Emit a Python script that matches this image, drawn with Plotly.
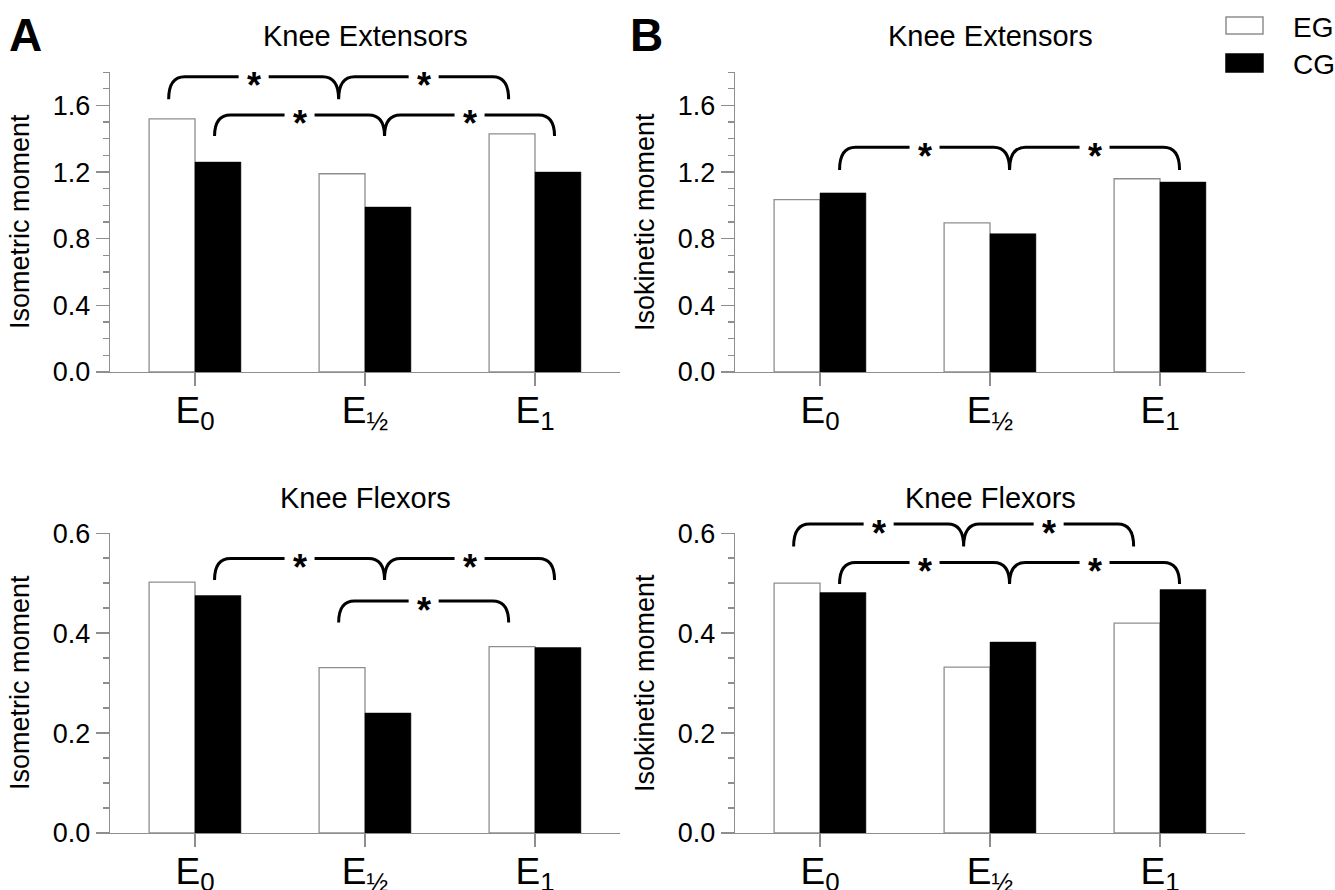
import plotly.graph_objects as go

W, H = 1335, 890

# ---------------- data ----------------
tick_labels = ["E<sub>0</sub>", "E<sub>½</sub>", "E<sub>1</sub>"]
series_names = ["EG", "CG"]

iso_ext_EG = [1.52, 1.19, 1.43]
iso_ext_CG = [1.26, 0.99, 1.20]
isok_ext_EG = [1.035, 0.895, 1.16]
isok_ext_CG = [1.075, 0.83, 1.14]
iso_flex_EG = [0.502, 0.331, 0.373]
iso_flex_CG = [0.475, 0.240, 0.371]
isok_flex_EG = [0.500, 0.332, 0.420]
isok_flex_CG = [0.481, 0.382, 0.487]

panel_titles = ["Knee Extensors", "Knee Extensors", "Knee Flexors", "Knee Flexors"]
y_titles = ["Isometric moment", "Isokinetic moment", "Isometric moment", "Isokinetic moment"]
y_ranges = [[0, 1.8], [0, 1.8], [0, 0.6], [0, 0.6]]
y_major = [[0, 0.4, 0.8, 1.2, 1.6], [0, 0.4, 0.8, 1.2, 1.6], [0, 0.2, 0.4, 0.6], [0, 0.2, 0.4, 0.6]]
y_minor = [0.1, 0.1, 0.05, 0.05]

# significance brackets: (panel index, series, categories joined, level of line, level of hook ends)
brackets = [
    (0, "EG", [0, 1, 2], 1.772, 1.636),
    (0, "CG", [0, 1, 2], 1.542, 1.416),
    (1, "CG", [0, 1, 2], 1.348, 1.212),
    (2, "CG", [0, 1, 2], 0.549, 0.506),
    (2, "EG", [1, 2], 0.464, 0.421),
    (3, "EG", [0, 1, 2], 0.618, 0.573),
    (3, "CG", [0, 1, 2], 0.541, 0.498),
]

# ---------------- layout geometry (pixels) ----------------
panels_px = [  # x0, x1, ytop, ybottom
    (110, 620, 72, 372),
    (735, 1245, 72, 372),
    (110, 620, 533, 833),
    (735, 1245, 533, 833),
]
XR = [-0.5, 2.5]
FONT = "Liberation Sans, Arial, Helvetica, sans-serif"
AX = "#8e8e8e"

panel_values = [
    (iso_ext_EG, iso_ext_CG),
    (isok_ext_EG, isok_ext_CG),
    (iso_flex_EG, iso_flex_CG),
    (isok_flex_EG, isok_flex_CG),
]

fig = go.Figure()
layout = dict(
    width=W, height=H, margin=dict(l=0, r=0, t=0, b=0),
    paper_bgcolor="white", plot_bgcolor="white",
    barmode="group", bargap=0.46, bargroupgap=0,
    showlegend=False, font=dict(family=FONT, color="black"),
    template="none",
)

for i, (x0, x1, yt, yb) in enumerate(panels_px):
    n = "" if i == 0 else str(i + 1)
    xd = [x0 / W, x1 / W]
    yd = [1 - yb / H, 1 - yt / H]
    layout["xaxis" + n] = dict(
        domain=xd, range=XR, anchor="y" + n, showline=True, linecolor=AX, linewidth=1.3,
        ticks="outside", ticklen=13, tickcolor=AX, tickwidth=1.3,
        tickvals=[0, 1, 2], ticktext=tick_labels, showgrid=False, zeroline=False,
        ticklabelstandoff=-8,
        tickfont=dict(size=37, family=FONT, color="black"), automargin=False, fixedrange=True,
    )
    yr = y_ranges[i]
    layout["yaxis" + n] = dict(
        domain=yd, range=[yr[0], yr[1] * 1.0005], anchor="x" + n, showline=True, linecolor=AX,
        linewidth=1.3, ticks="outside", ticklen=13, tickcolor=AX, tickwidth=1.3,
        tickvals=y_major[i], tickformat=".1f", showgrid=False, zeroline=False,
        tickfont=dict(size=27, family=FONT, color="black"), automargin=False, fixedrange=True,
        minor=dict(dtick=y_minor[i], tick0=0, ticks="outside", ticklen=6, tickcolor=AX,
                   tickwidth=1.3, showgrid=False),
    )
    eg, cg = panel_values[i]
    fig.add_trace(go.Bar(x=[0, 1, 2], y=eg, name="EG", xaxis="x" + n, yaxis="y" + n,
                         marker=dict(color="white", line=dict(color=AX, width=1.3))))
    fig.add_trace(go.Bar(x=[0, 1, 2], y=cg, name="CG", xaxis="x" + n, yaxis="y" + n,
                         marker=dict(color="black", line=dict(color="black", width=0.5))))

fig.update_layout(**layout)

annotations = []
shapes = []


def x2px(i, v):
    x0, x1, _, _ = panels_px[i]
    return x0 + (v - XR[0]) / (XR[1] - XR[0]) * (x1 - x0)


def y2px(i, v):
    _, _, yt, yb = panels_px[i]
    lo, hi = y_ranges[i]
    return yb - (v - lo) / (hi - lo) * (yb - yt)


def P(px, py):
    return f"{px / W:.5f},{1 - py / H:.5f}"


# panel titles and y titles
for i, (x0, x1, yt, yb) in enumerate(panels_px):
    ty = 36 if i < 2 else 498
    annotations.append(dict(text=panel_titles[i], x=(x0 + x1) / 2 / W, y=1 - ty / H,
                            xref="paper", yref="paper", showarrow=False,
                            xanchor="center", yanchor="middle", font=dict(size=29, family=FONT)))
    annotations.append(dict(text=y_titles[i], x=(x0 - 90) / W, y=1 - (yt + yb) / 2 / H,
                            xref="paper", yref="paper", showarrow=False, textangle=-90,
                            xanchor="center", yanchor="middle", font=dict(size=27, family=FONT)))

# panel letters
for letter, cx in (("A", 25), ("B", 646)):
    annotations.append(dict(text=f"<b>{letter}</b>", x=cx / W, y=1 - 35 / H, xref="paper",
                            yref="paper", showarrow=False, xanchor="center", yanchor="middle",
                            font=dict(size=46, family=FONT)))

# legend
leg = [("EG", "white", AX, 17, 34, 27.5), ("CG", "black", "black", 54, 72, 64)]
for name, fill, line, y0, y1, ty in leg:
    shapes.append(dict(type="rect", xref="paper", yref="paper", x0=1226 / W, x1=1263 / W,
                       y0=1 - y1 / H, y1=1 - y0 / H, fillcolor=fill, line=dict(color=line, width=1.5)))
    annotations.append(dict(text=name, x=1291 / W, y=1 - ty / H, xref="paper", yref="paper",
                            showarrow=False, xanchor="left", yanchor="middle",
                            font=dict(size=28, family=FONT)))

# brackets
OFF = {"EG": -0.155, "CG": 0.115}
R = 16
GAP = 15
for (pi, ser, cats, ytop, ybot) in brackets:
    xs = [x2px(pi, c + OFF[ser]) for c in cats]
    yt = y2px(pi, ytop)
    yb = y2px(pi, ybot)
    d = f"M {P(xs[0], yb)} Q {P(xs[0], yt)} {P(xs[0] + R, yt)}"
    for k in range(len(xs) - 1):
        a, b = xs[k], xs[k + 1]
        m = (a + b) / 2
        d += f" L {P(m - GAP, yt)} M {P(m + GAP, yt)} L {P(b - R, yt)} Q {P(b, yt)} {P(b, yb)}"
        if k < len(xs) - 2:
            d += f" Q {P(b, yt)} {P(b + R, yt)}"
        annotations.append(dict(text="<b>*</b>", x=m / W, y=1 - yt / H, xref="paper", yref="paper",
                                showarrow=False, xanchor="center", yanchor="middle", yshift=-9,
                                font=dict(size=36, family=FONT)))
    shapes.append(dict(type="path", path=d, xref="paper", yref="paper",
                       line=dict(color="black", width=3)))

fig.update_layout(annotations=annotations, shapes=shapes)
fig.write_html("out.html", config={"displayModeBar": False, "staticPlot": True},
               post_script="document.body.style.margin='0';document.body.style.overflow='hidden';")
